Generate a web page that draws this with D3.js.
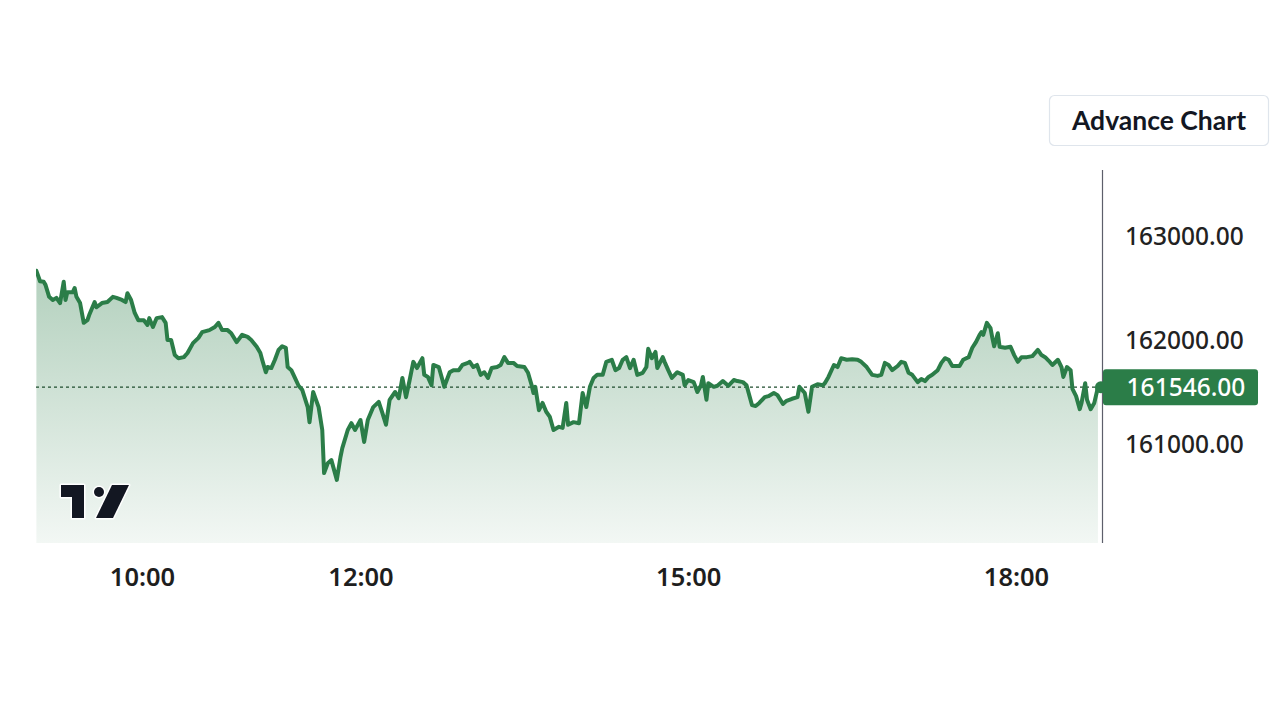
<!DOCTYPE html>
<html>
<head>
<meta charset="utf-8">
<script src="https://cdn.jsdelivr.net/npm/d3@7"></script>
<style>
  html, body { margin: 0; padding: 0; background: #ffffff; }
  svg { display: block; }
</style>
</head>
<body>
<svg id="chart" width="1280" height="720"></svg>
<script>
const times = [
"09:02","09:04","09:06","09:07","09:09","09:11","09:13","09:15","09:17","09:18",
"09:19","09:22","09:23","09:24","09:26","09:28","09:30","09:31","09:34","09:35",
"09:38","09:41","09:44","09:46","09:49","09:51","09:52","09:54","09:56","09:58",
"10:01","10:03","10:04","10:06","10:08","10:11","10:13","10:14","10:16","10:18",
"10:20","10:23","10:25","10:28","10:31","10:33","10:37","10:40","10:42","10:44",
"10:47","10:49","10:52","10:55","10:58","11:00","11:03","11:05","11:06","11:08",
"11:09","11:11","11:13","11:15","11:17","11:19","11:20","11:22","11:24","11:26",
"11:28","11:31","11:32","11:34","11:37","11:39","11:40","11:42","11:44","11:47",
"11:49","11:50","11:53","11:55","11:57","12:00","12:02","12:04","12:07","12:10",
"12:12","12:14","12:16","12:19","12:21","12:23","12:25","12:27","12:29","12:31",
"12:34","12:35","12:37","12:39","12:40","12:43","12:45","12:46","12:49","12:51",
"12:54","12:56","12:59","13:00","13:02","13:04","13:06","13:08","13:10","13:12",
"13:15","13:17","13:19","13:21","13:24","13:26","13:30","13:32","13:34","13:35",
"13:36","13:38","13:40","13:42","13:44","13:46","13:49","13:51","13:53","13:54",
"13:57","14:00","14:02","14:04","14:06","14:08","14:10","14:13","14:15","14:18",
"14:20","14:22","14:24","14:26","14:28","14:30","14:32","14:35","14:37","14:38",
"14:40","14:42","14:43","14:46","14:47","14:49","14:51","14:54","14:57","14:58",
"15:00","15:03","15:05","15:07","15:08","15:10","15:11","15:14","15:16","15:19",
"15:22","15:25","15:27","15:30","15:32","15:35","15:37","15:39","15:42","15:44",
"15:47","15:49","15:52","15:54","15:57","16:00","16:01","16:04","16:06","16:08",
"16:11","16:14","16:15","16:17","16:20","16:22","16:24","16:27","16:30","16:33",
"16:35","16:38","16:41","16:44","16:46","16:48","16:50","16:52","16:55","16:57",
"16:59","17:01","17:03","17:06","17:08","17:10","17:12","17:14","17:17","17:19",
"17:21","17:23","17:25","17:27","17:29","17:31","17:34","17:36","17:38","17:40",
"17:41","17:42","17:44","17:46","17:47","17:48","17:50","17:51","17:54","17:57",
"17:59","18:01","18:03","18:06","18:09","18:12","18:14","18:16","18:18","18:20",
"18:23","18:25","18:26","18:28","18:30","18:31","18:33","18:35","18:36","18:38",
"18:39","18:41","18:43","18:45"
];
const prices = [
162665,162565,162560,162530,162415,162385,162405,162355,162560,162385,
162460,162460,162500,162415,162355,162165,162190,162240,162365,162315,
162355,162365,162415,162405,162385,162365,162450,162385,162260,162190,
162190,162145,162210,162125,162210,162220,162165,162000,162000,161855,
161825,161835,161875,161970,162020,162075,162095,162125,162165,162095,
162095,162065,161980,162050,162030,162000,161935,161875,161810,161690,
161740,161730,161810,161905,161940,161925,161740,161710,161635,161560,
161520,161355,161210,161500,161355,161135,160720,160815,160845,160655,
160875,160960,161135,161200,161135,161230,161020,161230,161355,161405,
161300,161185,161425,161500,161440,161635,161450,161615,161790,161730,
161825,161665,161645,161565,161760,161740,161615,161550,161690,161710,
161710,161760,161780,161790,161740,161760,161665,161690,161635,161730,
161740,161760,161835,161780,161780,161750,161740,161685,161565,161490,
161550,161325,161395,161310,161260,161135,161165,161155,161395,161185,
161210,161200,161490,161355,161550,161635,161665,161665,161790,161810,
161710,161730,161810,161835,161730,161810,161665,161685,161740,161915,
161825,161885,161730,161835,161790,161710,161635,161690,161665,161565,
161615,161595,161500,161565,161645,161425,161585,161550,161560,161605,
161560,161615,161605,161595,161565,161375,161365,161395,161450,161460,
161490,161470,161385,161415,161435,161450,161550,161490,161310,161550,
161575,161565,161585,161645,161760,161740,161825,161810,161815,161810,
161790,161740,161665,161655,161665,161780,161760,161710,161750,161790,
161780,161685,161665,161595,161625,161605,161645,161665,161710,161780,
161825,161810,161750,161750,161750,161810,161835,161925,161980,162050,
162075,162050,162165,162115,162020,161940,162065,161935,161925,161935,
161855,161790,161835,161835,161845,161905,161855,161835,161800,161760,
161810,161740,161645,161740,161710,161530,161460,161335,161395,161585,
161425,161335,161395,161546
];
const yTicks = [161000, 162000, 163000];
const xTicks = ["10:00", "12:00", "15:00", "18:00"];
const lastPrice = 161546;
const buttonLabel = "Advance Chart";

const parse = d3.timeParse("%H:%M");
const data = times.map((t, i) => ({ t: parse(t), p: prices[i] }));

const svg = d3.select("#chart");
const plot = { left: 36, right: 1102, top: 170, bottom: 543 };

const x = d3.scaleTime().domain([parse("10:00"), parse("18:00")]).range([142, 1016]);
const y = d3.scaleLinear().domain([161000, 163000]).range([444, 236]);

const green = "#2b7d48";

// gradient
const defs = svg.append("defs");
const grad = defs.append("linearGradient").attr("id", "areaGrad")
  .attr("x1", 0).attr("y1", 0).attr("x2", 0).attr("y2", 1);
grad.append("stop").attr("offset", "0%").attr("stop-color", green).attr("stop-opacity", 0.36);
grad.append("stop").attr("offset", "100%").attr("stop-color", green).attr("stop-opacity", 0.06);

defs.append("clipPath").attr("id", "plotClip").append("rect")
  .attr("x", plot.left).attr("y", plot.top)
  .attr("width", plot.right - plot.left).attr("height", plot.bottom - plot.top);

const g = svg.append("g").attr("clip-path", "url(#plotClip)");

const area = d3.area().x(d => x(d.t)).y0(plot.bottom).y1(d => y(d.p));
const line = d3.line().x(d => x(d.t)).y(d => y(d.p));

g.append("path").datum(data).attr("d", area).attr("fill", "url(#areaGrad)");

// last price dashed line
g.append("line")
  .attr("x1", plot.left).attr("x2", plot.right)
  .attr("y1", y(lastPrice)).attr("y2", y(lastPrice))
  .attr("stroke", "#1f4d2e").attr("stroke-width", 1.2)
  .attr("stroke-dasharray", "3,3");

g.append("path").datum(data).attr("d", line)
  .attr("fill", "none").attr("stroke", green)
  .attr("stroke-width", 4).attr("stroke-linejoin", "round").attr("stroke-linecap", "round");

// right axis line
svg.append("line")
  .attr("x1", plot.right + 0.5).attr("x2", plot.right + 0.5)
  .attr("y1", plot.top).attr("y2", plot.bottom)
  .attr("stroke", "#5d5f6b").attr("stroke-width", 1.2);

// y axis
const yAxis = svg.append("g").attr("transform", `translate(${plot.right},0)`)
  .call(d3.axisRight(y).tickValues(yTicks).tickFormat(d3.format(".2f")).tickSize(0).tickPadding(23));
yAxis.select(".domain").remove();
yAxis.selectAll("text")
  .attr("font-family", "'Noto Sans', 'Open Sans', sans-serif")
  .attr("font-size", 24.5).attr("font-weight", 500).attr("fill", "#222").attr("dy", "0.35em");

// x axis
const xAxis = svg.append("g").attr("transform", `translate(0,${plot.bottom})`)
  .call(d3.axisBottom(x).tickValues(xTicks.map(parse)).tickFormat(d3.timeFormat("%H:%M")).tickSize(0).tickPadding(0));
xAxis.select(".domain").remove();
xAxis.selectAll("text")
  .attr("y", 34).attr("dy", "0.35em")
  .attr("font-family", "'Noto Sans', 'Open Sans', sans-serif")
  .attr("font-size", 25.5).attr("font-weight", 600).attr("fill", "#1e1e1e");

// end dot
const last = data[data.length - 1];
svg.append("circle").attr("cx", x(last.t) + 3).attr("cy", y(last.p)).attr("r", 6).attr("fill", green);

// last price label
const lbl = svg.append("g").attr("transform", `translate(${plot.right + 1},${y(lastPrice)})`);
lbl.append("rect").attr("x", 0).attr("y", -18).attr("width", 155).attr("height", 36)
  .attr("rx", 3).attr("fill", green);
lbl.append("text").attr("x", 83).attr("y", 0).attr("dy", "0.36em")
  .attr("text-anchor", "middle")
  .attr("font-family", "'Noto Sans', 'Open Sans', sans-serif")
  .attr("font-size", 24.5).attr("font-weight", 500).attr("fill", "#ffffff")
  .text(d3.format(".2f")(lastPrice));

// button
const btn = svg.append("g").attr("transform", "translate(1049,95)");
btn.append("rect").attr("x", 0.5).attr("y", 0.5).attr("width", 219).attr("height", 50)
  .attr("rx", 5).attr("fill", "#ffffff").attr("stroke", "#dfe5ec").attr("stroke-width", 1.2);
btn.append("text").attr("x", 110).attr("y", 26).attr("dy", "0.35em")
  .attr("text-anchor", "middle")
  .attr("font-family", "Lato, 'Noto Sans', sans-serif")
  .attr("font-size", 26.5).attr("font-weight", 700).attr("fill", "#131722")
  .text(buttonLabel);

// TradingView-like logo
const logo = svg.append("g").attr("fill", "#131722").attr("stroke", "#ffffff")
  .attr("stroke-width", 3).attr("stroke-linejoin", "round").attr("paint-order", "stroke");
logo.append("path").attr("d", "M61,485 H84 V518 H72 V497 H61 Z");
logo.append("circle").attr("cx", 99).attr("cy", 492).attr("r", 5);
logo.append("path").attr("d", "M112,485 H129 L113,518 H96 Z");
</script>
</body>
</html>
